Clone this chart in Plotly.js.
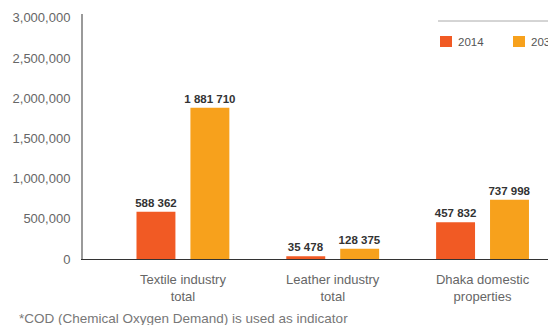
<!DOCTYPE html>
<html>
<head>
<meta charset="utf-8">
<script src="https://cdn.plot.ly/plotly-3.0.1.min.js"></script>
<style>
html,body{margin:0;padding:0;background:#fff;}
#chart{width:548px;height:325px;}
</style>
</head>
<body>
<div id="chart"></div>
<script>
var categories = ["Textile industry<br>total", "Leather industry<br>total", "Dhaka domestic<br>properties"];
var seriesNames = ["2014", "2030"];
var values2014 = [588362, 35478, 457832];
var values2030 = [1881710, 128375, 737998];
var yTickVals = [0, 500000, 1000000, 1500000, 2000000, 2500000, 3000000];
var yTickText = ["0", "500,000", "1,000,000", "1,500,000", "2,000,000", "2,500,000", "3,000,000"];
var footnote = "*COD (Chemical Oxygen Demand) is used as indicator";

function spaced(v){ return String(v).replace(/\B(?=(\d{3})+(?!\d))/g, " "); }

var colors = ["#F15A24", "#F7A11C"];
var font = "Liberation Sans, Arial, sans-serif";

var traces = [values2014, values2030].map(function(vals, i){
  return {
    type: "bar",
    name: seriesNames[i],
    x: categories,
    y: vals,
    text: vals.map(spaced),
    textposition: "outside",
    constraintext: "none",
    cliponaxis: false,
    textfont: {family: font, size: 11.5, color: "#333", weight: "bold"},
    marker: {color: colors[i]},
    hoverinfo: "skip",
    showlegend: false
  };
});

// plot area: x 83..548 (465px), y 14..259 (245px)
function px(x){ return (x - 83) / 465; }
function py(y){ return (259 - y) / 245; }

// legend drawn from seriesNames / colors
var legendX = [440, 513];
var shapes = [{
  type: "line", xref: "paper", yref: "paper",
  x0: px(438), x1: 1.01, y0: py(21), y1: py(21),
  line: {color: "#aaa", width: 1}
}];
var annotations = [{
  text: footnote, showarrow: false,
  xref: "paper", yref: "paper",
  x: px(17), xanchor: "left",
  y: py(318), yanchor: "middle",
  font: {family: font, size: 13.5, color: "#777"}
}];
seriesNames.forEach(function(name, i){
  shapes.push({
    type: "rect", xref: "paper", yref: "paper",
    x0: px(legendX[i]), x1: px(legendX[i] + 12),
    y0: py(47), y1: py(36),
    fillcolor: colors[i], line: {width: 0}
  });
  annotations.push({
    text: name, showarrow: false,
    xref: "paper", yref: "paper",
    x: px(legendX[i] + 16), xanchor: "left",
    y: py(42), yanchor: "middle",
    font: {family: font, size: 11.5, color: "#555"}
  });
});

var layout = {
  width: 548, height: 325,
  margin: {l: 83, r: 0, t: 14, b: 66, autoexpand: false},
  paper_bgcolor: "#fff", plot_bgcolor: "#fff",
  barmode: "group",
  bargap: 0.28,
  bargroupgap: 0.278,
  showlegend: false,
  xaxis: {
    type: "category",
    range: [-0.667, 2.437],
    showline: true, linecolor: "#333", linewidth: 1,
    showgrid: false, zeroline: false,
    ticks: "outside", ticklen: 8, tickcolor: "rgba(0,0,0,0)",
    tickfont: {family: font, size: 13, color: "#666"},
    fixedrange: true
  },
  yaxis: {
    range: [0, 3047000],
    tickvals: yTickVals, ticktext: yTickText,
    showline: true, linecolor: "#9a9a9a", linewidth: 2,
    showgrid: false, zeroline: false,
    ticks: "outside", ticklen: 8, tickcolor: "rgba(0,0,0,0)",
    tickfont: {family: font, size: 13, color: "#666"},
    fixedrange: true
  },
  shapes: shapes,
  annotations: annotations
};

Plotly.newPlot("chart", traces, layout, {displayModeBar: false, staticPlot: true});
</script>
</body>
</html>
